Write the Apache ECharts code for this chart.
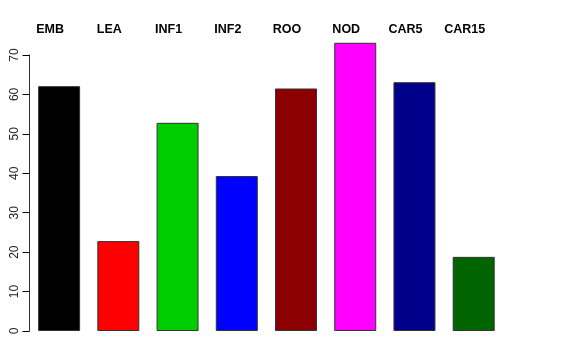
<!DOCTYPE html>
<html>
<head>
<meta charset="utf-8">
<script src="https://cdn.jsdelivr.net/npm/echarts@6/dist/echarts.min.js"></script>
<style>html,body{margin:0;padding:0;background:#fff}#c{width:576px;height:360px}</style>
</head>
<body>
<div id="c"></div>
<script>
const categories = ["EMB", "LEA", "INF1", "INF2", "ROO", "NOD", "CAR5", "CAR15"];
const values = [62.1, 22.8, 52.8, 39.3, 61.5, 73.1, 63.1, 18.8];
const colors = ["#000000", "#FF0000", "#00CD00", "#0000FF", "#8B0000", "#FF00FF", "#00008B", "#006400"];
const yTicks = [0, 10, 20, 30, 40, 50, 60, 70];

const chart = echarts.init(document.getElementById('c'), null, {renderer: 'canvas'});
chart.setOption({
  backgroundColor: '#fff',
  animation: false,
  grid: [
    {left: 29.5, right: 72.7, top: 55, bottom: 29},
    {left: 20.5, right: 81.7, top: 55, bottom: 29}
  ],
  xAxis: [
    {type: 'category', gridIndex: 0, data: categories, show: false},
    {type: 'category', gridIndex: 1, data: categories, position: 'top',
     axisLine: {show: false}, axisTick: {show: false},
     axisLabel: {margin: 19, fontFamily: 'Liberation Sans', fontWeight: 'bold', fontSize: 12.5, color: '#000'}}
  ],
  yAxis: [
    {type: 'value', gridIndex: 0, min: yTicks[0], max: yTicks[yTicks.length - 1], interval: 10,
     axisLine: {show: true, lineStyle: {color: '#333', width: 1}},
     axisTick: {show: true, length: 7, lineStyle: {color: '#000'}},
     splitLine: {show: false},
     axisLabel: {rotate: 90, margin: 9, fontFamily: 'Liberation Sans', fontSize: 12, color: '#222'}},
    {type: 'value', gridIndex: 1, show: false, min: 0, max: 70}
  ],
  series: [{
    type: 'bar',
    xAxisIndex: 0, yAxisIndex: 0,
    clip: false,
    barWidth: 42,
    data: values.map((v, i) => ({value: v, itemStyle: {color: colors[i]}})),
    itemStyle: {borderColor: '#333', borderWidth: 1}
  }]
});
</script>
</body>
</html>
